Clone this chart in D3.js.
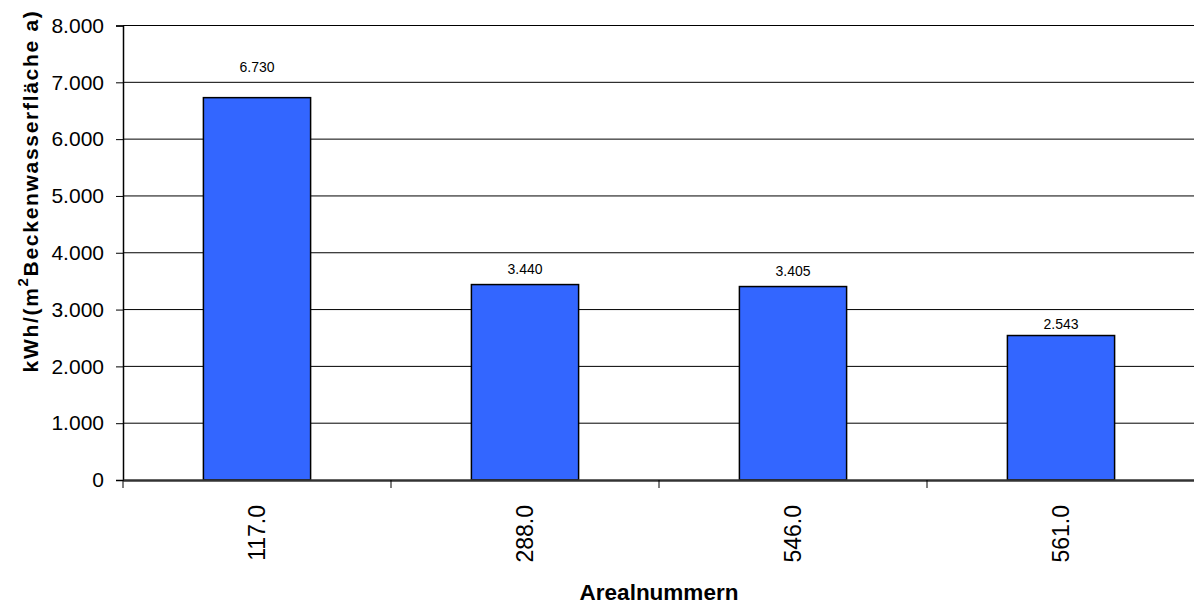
<!DOCTYPE html>
<html><head><meta charset="utf-8">
<script src="https://cdn.jsdelivr.net/npm/d3@7"></script>
<style>body{margin:0;background:#fff}svg{display:block}text{font-family:"Liberation Sans",Arial,sans-serif;fill:#000}</style>
</head><body>
<svg id="c" width="1194" height="608"></svg>
<script>
const categories = ["117.0", "288.0", "546.0", "561.0"];
const values = [6730, 3440, 3405, 2543];
const yTicks = [0, 1000, 2000, 3000, 4000, 5000, 6000, 7000, 8000];
const xTitle = "Arealnummern";

const de = d3.formatLocale({decimal: ",", thousands: ".", grouping: [3], currency: ["", " €"]});
const fmt = de.format(",d");

const svg = d3.select("#c");
const L = 123, R = 1195, T = 25.5, B = 480;
const x = d3.scaleBand().domain(categories).range([L, R]).paddingInner(0.6).paddingOuter(0.3);
const xb = d3.scaleBand().domain(categories).range([L, R]);
const y = d3.scaleLinear().domain([0, 8000]).range([B, T]);

// gridlines
svg.append("g").selectAll("line").data(yTicks.filter(d => d > 0)).join("line")
  .attr("x1", L).attr("x2", R).attr("y1", d => y(d)).attr("y2", d => y(d))
  .attr("stroke", "#000").attr("stroke-width", 1);

// bars
svg.append("g").selectAll("rect").data(values).join("rect")
  .attr("x", (d, i) => x(categories[i]))
  .attr("width", x.bandwidth())
  .attr("y", d => y(d))
  .attr("height", d => B - y(d))
  .attr("fill", "#3366FF").attr("stroke", "#000").attr("stroke-width", 1.5);

// value labels
svg.append("g").selectAll("text").data(values).join("text")
  .attr("x", (d, i) => x(categories[i]) + x.bandwidth() / 2)
  .attr("y", d => y(d * 1.08) + 5)
  .attr("text-anchor", "middle").attr("font-size", 14)
  .text(d => fmt(d));

// y axis
const ya = svg.append("g").attr("transform", `translate(${L},0)`)
  .call(d3.axisLeft(y).tickValues(yTicks).tickFormat(fmt).tickSize(7).tickPadding(12));
ya.select(".domain").attr("stroke", "#000").attr("stroke-width", 1.5);
ya.selectAll(".tick line").attr("stroke", "#000");
ya.selectAll("text").attr("font-size", 21).attr("font-family", "Liberation Sans, Arial, sans-serif").attr("fill", "#000");

// x axis
const xa = svg.append("g").attr("transform", `translate(0,${B})`)
  .call(d3.axisBottom(xb).tickSize(0).tickFormat(d => d));
xa.select(".domain").attr("stroke", "#333").attr("stroke-width", 2.5);
xa.selectAll(".tick text")
  .attr("font-size", 23).attr("font-family", "Liberation Sans, Arial, sans-serif").attr("fill", "#000")
  .attr("text-anchor", "end").attr("transform", "rotate(-90)")
  .attr("x", -25).attr("y", 0).attr("dy", "0.35em");
// category boundary ticks
const bounds = categories.map(c => xb(c)).concat([xb(categories[categories.length - 1]) + xb.bandwidth()]);
svg.append("g").selectAll("line").data(bounds).join("line")
  .attr("x1", d => d).attr("x2", d => d).attr("y1", B).attr("y2", B + 8)
  .attr("stroke", "#000").attr("stroke-width", 1);

// x title
svg.append("text").attr("x", (L + R) / 2).attr("y", 600)
  .attr("text-anchor", "middle").attr("font-size", 22.5).attr("font-weight", "bold")
  .text(xTitle);

// y title
const yt = svg.append("text").attr("transform", "translate(38,191) rotate(-90)")
  .attr("text-anchor", "middle").attr("font-size", 21).attr("font-weight", "bold")
  .attr("letter-spacing", "1.7px");
yt.append("tspan").text("kWh/(m");
yt.append("tspan").attr("dy", -10).attr("font-size", 15).text("2");
yt.append("tspan").attr("dy", 10).text("Beckenwasserfläche a)");
</script>
</body></html>
